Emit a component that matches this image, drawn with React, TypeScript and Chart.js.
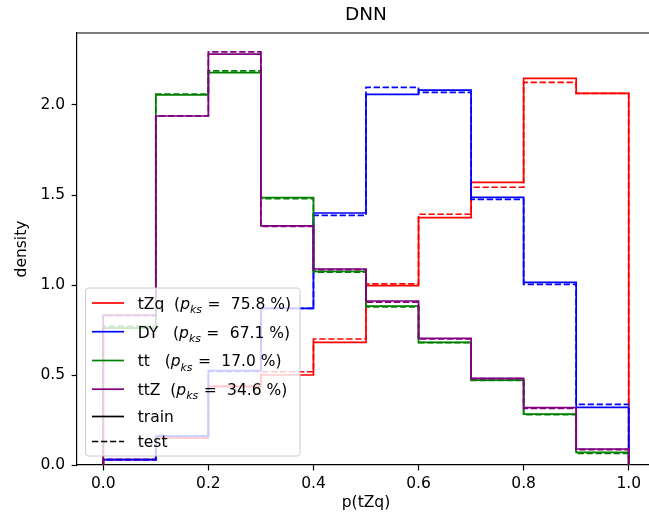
import React, { useEffect, useRef } from "react";
import { Chart, registerables } from "chart.js";

Chart.register(...registerables);

// ---- data ----
const binEdges = [0, 0.1, 0.2, 0.3, 0.4, 0.5, 0.6, 0.7, 0.8, 0.9, 1.0];
const classNames = ["tZq", "DY", "tt", "ttZ"];
const pksValues = ["75.8", "67.1", "17.0", "34.6"];

const tZqTrain = [0.03, 0.15, 0.435, 0.5, 0.681, 0.996, 1.374, 1.57, 2.148, 2.065];
const tZqTest = [0.03, 0.15, 0.44, 0.518, 0.7, 1.006, 1.393, 1.543, 2.126, 2.065];
const dyTrain = [0.03, 0.16, 0.524, 0.87, 1.4, 2.059, 2.083, 1.487, 1.015, 0.32];
const dyTest = [0.03, 0.16, 0.52, 0.87, 1.387, 2.098, 2.07, 1.476, 1.004, 0.337];
const ttTrain = [0.76, 2.056, 2.18, 1.485, 1.076, 0.883, 0.681, 0.472, 0.283, 0.07];
const ttTest = [0.77, 2.061, 2.19, 1.48, 1.072, 0.878, 0.68, 0.47, 0.28, 0.065];
const ttZTrain = [0.833, 1.939, 2.283, 1.328, 1.089, 0.911, 0.704, 0.481, 0.319, 0.089];
const ttZTest = [0.83, 1.94, 2.295, 1.325, 1.085, 0.905, 0.7, 0.48, 0.315, 0.085];

const trainSeries = [tZqTrain, dyTrain, ttTrain, ttZTrain];
const testSeries = [tZqTest, dyTest, ttTest, ttZTest];

const xTicks = [0, 0.2, 0.4, 0.6, 0.8, 1.0];
const yTicks = [0, 0.5, 1.0, 1.5, 2.0];

// ---- style ----
const classColors = ["#ff0000", "#0000ff", "#008000", "#800080"];
const FONT = "DejaVu Sans";
const FS = 15.5;
const LW = 1.7;
const DASH = [6.3, 2.7];

function stepPoints(values: number[]) {
  const pts: { x: number; y: number }[] = [{ x: binEdges[0], y: 0 }];
  values.forEach((v, i) => {
    pts.push({ x: binEdges[i], y: v });
    pts.push({ x: binEdges[i + 1], y: v });
  });
  pts.push({ x: binEdges[binEdges.length - 1], y: 0 });
  return pts;
}

const spinePlugin = {
  id: "topRightSpine",
  afterDraw(chart: any) {
    const { ctx, chartArea } = chart;
    ctx.save();
    ctx.strokeStyle = "#000";
    ctx.lineWidth = 1.2;
    ctx.beginPath();
    ctx.moveTo(chartArea.left, chartArea.top);
    ctx.lineTo(chartArea.right, chartArea.top);
    ctx.lineTo(chartArea.right, chartArea.bottom);
    ctx.stroke();
    ctx.restore();
  },
};

const legendPlugin = {
  id: "histLegend",
  afterDraw(chart: any) {
    const ctx: CanvasRenderingContext2D = chart.ctx;
    const bx = 85.5, by = 288, bw = 214.5, bh = 168, r = 3;
    ctx.save();
    ctx.beginPath();
    ctx.moveTo(bx + r, by);
    ctx.lineTo(bx + bw - r, by);
    ctx.quadraticCurveTo(bx + bw, by, bx + bw, by + r);
    ctx.lineTo(bx + bw, by + bh - r);
    ctx.quadraticCurveTo(bx + bw, by + bh, bx + bw - r, by + bh);
    ctx.lineTo(bx + r, by + bh);
    ctx.quadraticCurveTo(bx, by + bh, bx, by + bh - r);
    ctx.lineTo(bx, by + r);
    ctx.quadraticCurveTo(bx, by, bx + r, by);
    ctx.closePath();
    ctx.fillStyle = "rgba(255,255,255,0.8)";
    ctx.fill();
    ctx.strokeStyle = "#cccccc";
    ctx.lineWidth = 1;
    ctx.stroke();

    const rowY = [303, 331.7, 360.5, 389.2, 416.5, 441.5];
    const hx0 = 92, hx1 = 124, tx = 137.7;
    const normal = `${FS}px "${FONT}"`;
    const italic = `italic ${FS}px "${FONT}"`;
    const subItalic = `italic ${FS * 0.7}px "${FONT}"`;
    ctx.textBaseline = "alphabetic";
    ctx.textAlign = "left";
    ctx.fillStyle = "#000";

    const drawHandle = (y: number, color: string, dashed: boolean) => {
      ctx.save();
      ctx.strokeStyle = color;
      ctx.lineWidth = LW;
      ctx.setLineDash(dashed ? DASH : []);
      ctx.beginPath();
      ctx.moveTo(hx0, y);
      ctx.lineTo(hx1, y);
      ctx.stroke();
      ctx.restore();
    };

    classNames.forEach((name, i) => {
      const y = rowY[i];
      drawHandle(y, classColors[i], false);
      const base = y + 5.8;
      let x = tx;
      ctx.font = normal;
      const head = name.padEnd(5, " ") + "(";
      ctx.fillText(head, x, base);
      x += ctx.measureText(head).width;
      ctx.font = italic;
      ctx.fillText("p", x, base);
      x += ctx.measureText("p").width;
      ctx.font = subItalic;
      ctx.fillText("ks", x, base + 4.2);
      x += ctx.measureText("ks").width + 5.5;
      ctx.font = normal;
      ctx.fillText("=", x, base);
      x += ctx.measureText("=").width + 5.5;
      ctx.fillText(" " + pksValues[i] + " %)", x, base);
    });

    const extra = [
      { label: "train", dashed: false },
      { label: "test", dashed: true },
    ];
    extra.forEach((e, j) => {
      const y = rowY[4 + j];
      drawHandle(y, "#000", e.dashed);
      ctx.font = normal;
      ctx.fillStyle = "#000";
      ctx.fillText(e.label, tx, y + 5.8);
    });
    ctx.restore();
  },
};

export default function App() {
  const ref = useRef<HTMLCanvasElement | null>(null);

  useEffect(() => {
    if (!ref.current) return;
    const datasets: any[] = [];
    classNames.forEach((name, i) => {
      datasets.push({
        label: name + " train",
        data: stepPoints(trainSeries[i]),
        borderColor: classColors[i],
        borderWidth: LW,
        pointRadius: 0,
        fill: false,
        tension: 0,
        borderJoinStyle: "miter",
        order: -datasets.length,
      });
      datasets.push({
        label: name + " test",
        data: stepPoints(testSeries[i]),
        borderColor: classColors[i],
        borderWidth: LW,
        borderDash: DASH,
        pointRadius: 0,
        fill: false,
        tension: 0,
        borderJoinStyle: "miter",
        order: -datasets.length,
      });
    });

    const chart = new Chart(ref.current, {
      type: "line",
      data: { datasets },
      options: {
        animation: false,
        responsive: false,
        devicePixelRatio: 1,
        layout: { padding: { left: 0, right: 5, top: 0, bottom: 0 } },
        plugins: {
          legend: { display: false },
          tooltip: { enabled: false },
          title: {
            display: true,
            text: "DNN",
            color: "#000",
            fullSize: false,
            font: { family: FONT, size: 18.5, weight: "normal" },
            padding: { top: 4, bottom: 6.8 },
          },
        },
        scales: {
          x: {
            type: "linear",
            min: -0.05,
            max: 1.05,
            afterBuildTicks: (scale: any) => {
              scale.ticks = xTicks.map((v) => ({ value: v }));
            },
            afterFit: (scale: any) => {
              scale.height = 51;
            },
            ticks: {
              color: "#000",
              font: { family: FONT, size: FS },
              padding: 3.8,
              maxRotation: 0,
              autoSkip: false,
              callback: (v: any) => Number(v).toFixed(1),
            },
            grid: {
              drawOnChartArea: false,
              drawTicks: true,
              tickLength: 5.4,
              tickColor: "#000",
              tickWidth: 1.2,
            },
            border: { display: true, color: "#000", width: 1.2 },
            title: {
              display: true,
              text: "p(tZq)",
              color: "#000",
              font: { family: FONT, size: FS },
              padding: { top: 0, bottom: 3.5 },
            },
          },
          y: {
            type: "linear",
            min: 0,
            max: 2.4,
            afterBuildTicks: (scale: any) => {
              scale.ticks = yTicks.map((v) => ({ value: v }));
            },
            afterFit: (scale: any) => {
              scale.width = 77;
            },
            ticks: {
              color: "#000",
              font: { family: FONT, size: FS },
              padding: 6.5,
              autoSkip: false,
              callback: (v: any) => Number(v).toFixed(1),
            },
            grid: {
              drawOnChartArea: false,
              drawTicks: true,
              tickLength: 5.4,
              tickColor: "#000",
              tickWidth: 1.2,
            },
            border: { display: true, color: "#000", width: 1.2 },
            title: {
              display: true,
              text: "density",
              color: "#000",
              font: { family: FONT, size: FS },
              padding: { top: 12.7, bottom: 0 },
            },
          },
        },
      },
      plugins: [spinePlugin, legendPlugin],
    });
    return () => chart.destroy();
  }, []);

  return (
    <div
      style={{
        position: "fixed",
        left: 0,
        top: 0,
        width: 649,
        height: 516,
        overflow: "hidden",
        background: "#fff",
      }}
    >
      <canvas ref={ref} width={660} height={516} style={{ display: "block" }} />
    </div>
  );
}
